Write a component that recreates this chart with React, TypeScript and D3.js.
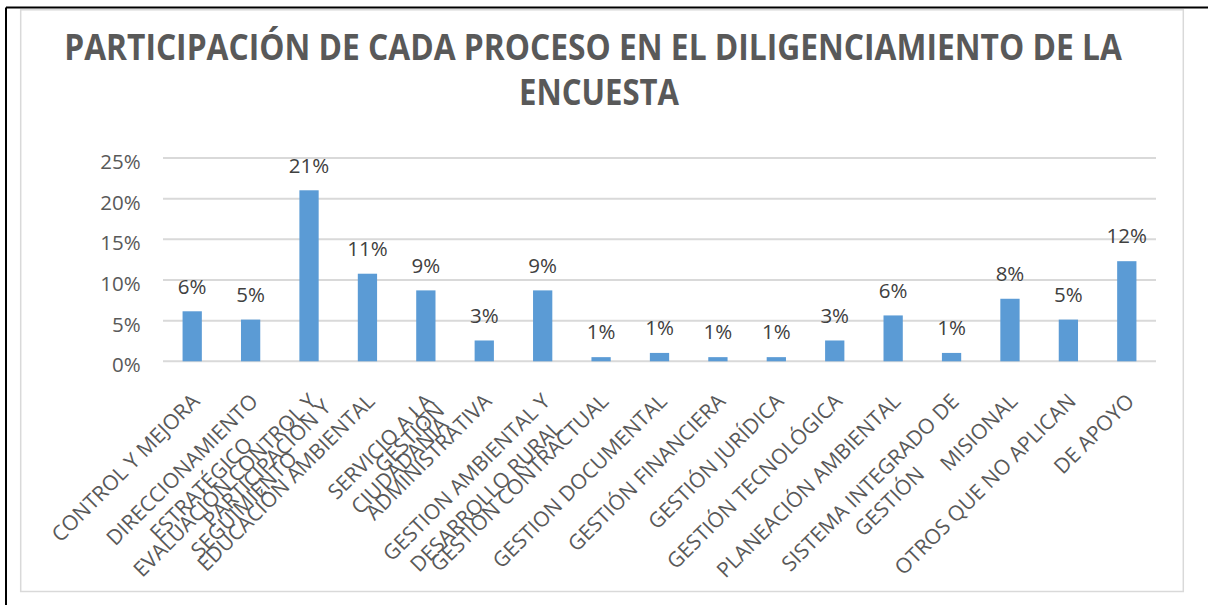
import React, { useEffect, useRef } from "react";
import * as d3 from "d3";

// categories, already split in lines the way the chart wraps them
const categories = [
  ["CONTROL Y MEJORA"],
  ["DIRECCIONAMIENTO", "ESTRATÉGICO"],
  ["EVALUACIÓN CONTROL Y", "SEGUIMIENTO"],
  ["PARTICIPACIÓN Y", "EDUCACIÓN AMBIENTAL"],
  ["SERVICIO A LA", "CIUDADANÍA"],
  ["GESTIÓN", "ADMINISTRATIVA"],
  ["GESTION AMBIENTAL Y", "DESARROLLO RURAL"],
  ["GESTIÓN CONTRACTUAL"],
  ["GESTION DOCUMENTAL"],
  ["GESTIÓN FINANCIERA"],
  ["GESTIÓN JURÍDICA"],
  ["GESTIÓN TECNOLÓGICA"],
  ["PLANEACIÓN AMBIENTAL"],
  ["SISTEMA INTEGRADO DE", "GESTIÓN"],
  ["MISIONAL"],
  ["OTROS QUE NO APLICAN"],
  ["DE APOYO"],
];

// participation, in percent
const values = [6.15, 5.13, 21.03, 10.77, 8.72, 2.56, 8.72, 0.51, 1.03, 0.51, 0.51, 2.56, 5.64, 1.03, 7.69, 5.13, 12.31];

const yTicks = [0, 5, 10, 15, 20, 25];

const titleLines = ["PARTICIPACIÓN DE CADA PROCESO EN EL DILIGENCIAMIENTO DE LA", "ENCUESTA"];
const titleWidths = [1058, 160];

const width = 1208,
  height = 605;
const margin = { left: 163, right: 1156, top: 158, bottom: 361.3 };
const FONT = "'Open Sans', sans-serif";
const FS = 20.5;
const XFS = 21;
const LINE = 27;
const CAP = XFS * 0.72;

const App = () => {
  const labelsRef = useRef<SVGGElement>(null);
  const titleRef = useRef<SVGGElement>(null);

  const x = d3
    .scaleBand<number>()
    .domain(values.map((_, i) => i))
    .range([margin.left, margin.right])
    .padding(0);
  const y = d3.scaleLinear().domain([0, 25]).range([margin.bottom, margin.top]);
  const barW = x.bandwidth() * 0.33;

  useEffect(() => {
    // title: squeeze the bold face to the narrow width of the original
    const tg = d3.select(titleRef.current);
    tg.selectAll("*").remove();
    const titlePos = [
      [593, 60],
      [599, 105],
    ];
    titleLines.forEach((ln, j) => {
      const t = tg.append("text").attr("text-anchor", "middle").text(ln);
      const w = (t.node() as SVGTextElement).getComputedTextLength();
      const s = titleWidths[j] / w;
      t.attr("transform", `translate(${titlePos[j][0]},${titlePos[j][1]}) scale(${s},1)`);
    });

    const g = d3.select(labelsRef.current);
    g.selectAll("*").remove();
    const c = Math.SQRT1_2;

    categories.forEach((lines, i) => {
      const grp = g.append("g");
      const texts = lines.map((ln, j) =>
        grp.append("text").attr("text-anchor", "middle").attr("y", j * LINE).text(ln)
      );
      const widths = texts.map((t) => (t.node() as SVGTextElement).getComputedTextLength());
      const W = Math.max(...widths);
      texts.forEach((t) => t.attr("x", -W / 2));

      // find the topmost end point of the rotated block
      let best = { sx: 0, sy: Infinity };
      lines.forEach((_, j) => {
        const ex = -(W - widths[j]) / 2;
        const ey = j * LINE - CAP;
        const sx = c * (ex + ey),
          sy = c * (-ex + ey);
        if (sy < best.sy) best = { sx, sy };
      });

      const cx = (x(i) as number) + x.bandwidth() / 2 - 2;
      grp.attr("transform", `translate(${cx - best.sx},${392 - best.sy}) rotate(-45)`);
    });
  }, []);

  return (
    <svg
      width={width}
      height={height}
      style={{ position: "absolute", left: 0, top: 0, background: "#fff" }}
    >
      <rect x={0} y={0} width={width} height={height} fill="#fff" />
      {/* page borders */}
      <line x1={6} x2={width} y1={7.5} y2={7.5} stroke="#000" strokeWidth={1.8} />
      <line x1={6} x2={6} y1={7.5} y2={height} stroke="#000" strokeWidth={2} />
      <rect x={20.7} y={9.8} width={1162.6} height={581.7} fill="none" stroke="#d9d9d9" strokeWidth={1.5} />

      {/* title, placed after measuring */}
      <g ref={titleRef} fontFamily={FONT} fontWeight="bold" fill="#595959" fontSize={35} />

      {/* grid */}
      <g>
        {yTicks.map((t) => (
          <line key={t} x1={margin.left} x2={margin.right} y1={y(t)} y2={y(t)} stroke="#d9d9d9" strokeWidth={2} />
        ))}
      </g>
      <g fontFamily={FONT} fontSize={FS} fill="#595959" textAnchor="end">
        {yTicks.map((t) => (
          <text key={t} x={140.7} y={y(t) + 11}>
            {t + "%"}
          </text>
        ))}
      </g>

      {/* bars */}
      <g>
        {values.map((v, i) => (
          <rect
            key={i}
            x={(x(i) as number) + (x.bandwidth() - barW) / 2}
            y={y(v)}
            width={barW}
            height={y(0) - y(v)}
            fill="#5b9bd5"
          />
        ))}
      </g>
      <g fontFamily={FONT} fontSize={FS} fill="#404040" textAnchor="middle">
        {values.map((v, i) => (
          <text key={i} x={(x(i) as number) + x.bandwidth() / 2} y={y(v) - 17.7}>
            {Math.round(v) + "%"}
          </text>
        ))}
      </g>

      {/* category labels, placed after measuring */}
      <g ref={labelsRef} fontFamily={FONT} fontSize={XFS} fill="#595959" />
    </svg>
  );
};

export default App;
